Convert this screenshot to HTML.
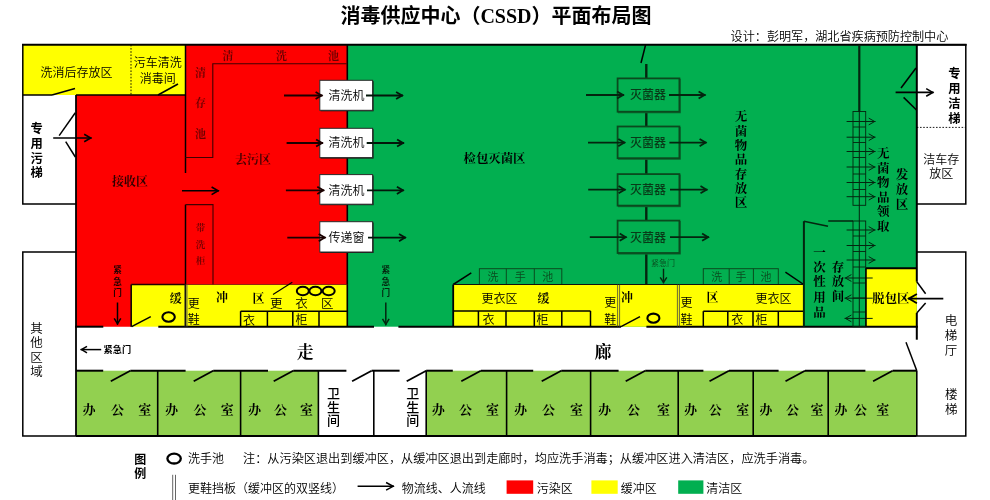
<!DOCTYPE html>
<html lang="zh-CN">
<head>
<meta charset="utf-8">
<title>消毒供应中心（CSSD）平面布局图</title>
<style>
html,body{margin:0;padding:0;background:#fff;}
body{width:990px;height:500px;overflow:hidden;}
svg{display:block;will-change:transform;}
</style>
</head>
<body>
<svg width="990" height="500" viewBox="0 0 990 500">
<rect x="0" y="0" width="990" height="500" fill="#ffffff"/>
<!-- zone fills -->
<rect x="22.8" y="44.8" width="162.7" height="50.2" fill="#ffff00"/>
<polygon points="185.5,44.8 347.3,44.8 347.3,284.5 131.2,284.5 131.2,326.7 76,326.7 76,95 185.5,95" fill="#fe0000"/>
<rect x="347.3" y="44.8" width="569.5" height="281.9" fill="#02af50"/>
<rect x="131.2" y="284.5" width="216.1" height="42.2" fill="#ffff00"/>
<rect x="453.2" y="284.5" width="350.3" height="42.2" fill="#ffff00"/>
<rect x="866" y="268.3" width="50.8" height="58.4" fill="#ffff00"/>
<rect x="76" y="370.7" width="242.4" height="65.3" fill="#92d050"/>
<rect x="426.2" y="370.7" width="490.6" height="65.3" fill="#92d050"/>
<!-- outer walls -->
<line x1="22" y1="44.8" x2="966.6" y2="44.8" stroke="#000" stroke-width="2"/>
<polyline points="22.8,44.8 22.8,204 76,204" fill="none" stroke="#000" stroke-width="1.5"/>
<line x1="22.8" y1="95" x2="52" y2="95" stroke="#000" stroke-width="1.5"/>
<line x1="52" y1="95" x2="75" y2="88.5" stroke="#000" stroke-width="1.5"/>
<line x1="76" y1="95" x2="185.5" y2="95" stroke="#000" stroke-width="1.5"/>
<line x1="76" y1="95" x2="76" y2="436" stroke="#000" stroke-width="1.8"/>
<line x1="158" y1="95" x2="178" y2="84" stroke="#000" stroke-width="1.5"/>
<line x1="131" y1="44.8" x2="131" y2="95" stroke="#000" stroke-width="0.9" stroke-dasharray="1.6,1.6"/>
<polyline points="76,252 22.8,252 22.8,436 76,436" fill="none" stroke="#000" stroke-width="1.5"/>
<polyline points="916.8,44.8 965.8,44.8 965.8,204 916.8,204" fill="none" stroke="#000" stroke-width="1.5"/>
<line x1="916.8" y1="127.4" x2="965.8" y2="127.4" stroke="#000" stroke-width="0.9" stroke-dasharray="1.6,1.6"/>
<line x1="916.8" y1="44.8" x2="916.8" y2="281.7" stroke="#000" stroke-width="2"/>
<line x1="916.8" y1="313" x2="916.8" y2="339.7" stroke="#000" stroke-width="2"/>
<polyline points="916.8,281.7 925.6,293.8" fill="none" stroke="#000" stroke-width="1.5"/>
<polyline points="925.6,303 916.8,313" fill="none" stroke="#000" stroke-width="1.5"/>
<line x1="906" y1="342.3" x2="916.8" y2="370.7" stroke="#000" stroke-width="1.5"/>
<polyline points="916.8,252 965.8,252 965.8,436 916.8,436" fill="none" stroke="#000" stroke-width="1.5"/>
<!-- red zone inner lines -->
<line x1="185.5" y1="44.8" x2="185.5" y2="173" stroke="#000" stroke-width="1.5"/>
<line x1="185.5" y1="204.6" x2="185.5" y2="326.7" stroke="#000" stroke-width="1.5"/>
<polyline points="185.5,157.5 212.8,157.5 212.8,63.8 346.5,63.8" fill="none" stroke="#400000" stroke-width="1.1"/>
<polyline points="185.5,204.6 213,204.6 213,284.5" fill="none" stroke="#400000" stroke-width="1.1"/>
<line x1="347.3" y1="44.8" x2="347.3" y2="326.7" stroke="#000" stroke-width="1.6"/>
<!-- corridor lines -->
<line x1="75.2" y1="326.7" x2="103.3" y2="326.7" stroke="#000" stroke-width="2"/>
<line x1="131.2" y1="326.7" x2="131.2" y2="284.5" stroke="#000" stroke-width="1.5"/>
<line x1="131.2" y1="284.5" x2="186" y2="284.5" stroke="#200" stroke-width="1.3"/>
<line x1="186" y1="284.5" x2="347.3" y2="284.5" stroke="#700" stroke-width="0.8"/>
<line x1="158.3" y1="326.7" x2="374" y2="326.7" stroke="#000" stroke-width="2"/>
<line x1="398.4" y1="326.7" x2="621" y2="326.7" stroke="#000" stroke-width="2"/>
<line x1="646.4" y1="326.7" x2="917.8" y2="326.7" stroke="#000" stroke-width="2"/>
<line x1="76" y1="436" x2="916.8" y2="436" stroke="#000" stroke-width="2"/>
<line x1="76" y1="370.7" x2="103.2" y2="370.7" stroke="#000" stroke-width="2"/>
<line x1="130.3" y1="370.7" x2="185.6" y2="370.7" stroke="#000" stroke-width="2"/>
<line x1="213.2" y1="370.7" x2="268" y2="370.7" stroke="#000" stroke-width="2"/>
<line x1="293.2" y1="370.7" x2="346.4" y2="370.7" stroke="#000" stroke-width="2"/>
<line x1="371.6" y1="370.7" x2="399.6" y2="370.7" stroke="#000" stroke-width="2"/>
<line x1="426.2" y1="370.7" x2="452.8" y2="370.7" stroke="#000" stroke-width="2"/>
<line x1="480.8" y1="370.7" x2="533.2" y2="370.7" stroke="#000" stroke-width="2"/>
<line x1="561.2" y1="370.7" x2="618.6" y2="370.7" stroke="#000" stroke-width="2"/>
<line x1="645.2" y1="370.7" x2="703.4" y2="370.7" stroke="#000" stroke-width="2"/>
<line x1="729" y1="370.7" x2="778.6" y2="370.7" stroke="#000" stroke-width="2"/>
<line x1="805" y1="370.7" x2="865.4" y2="370.7" stroke="#000" stroke-width="2"/>
<line x1="892.6" y1="370.7" x2="916.8" y2="370.7" stroke="#000" stroke-width="2"/>
<line x1="130.3" y1="370.7" x2="110.8" y2="381.3" stroke="#000" stroke-width="1.8"/>
<line x1="213.2" y1="370.7" x2="193.7" y2="381.3" stroke="#000" stroke-width="1.8"/>
<line x1="293.2" y1="370.7" x2="273.7" y2="381.3" stroke="#000" stroke-width="1.8"/>
<line x1="371.6" y1="370.7" x2="352.1" y2="381.3" stroke="#000" stroke-width="1.8"/>
<line x1="426.2" y1="370.7" x2="406.7" y2="381.3" stroke="#000" stroke-width="1.8"/>
<line x1="480.8" y1="370.7" x2="461.3" y2="381.3" stroke="#000" stroke-width="1.8"/>
<line x1="561.2" y1="370.7" x2="541.7" y2="381.3" stroke="#000" stroke-width="1.8"/>
<line x1="645.2" y1="370.7" x2="625.7" y2="381.3" stroke="#000" stroke-width="1.8"/>
<line x1="729" y1="370.7" x2="709.5" y2="381.3" stroke="#000" stroke-width="1.8"/>
<line x1="805" y1="370.7" x2="785.5" y2="381.3" stroke="#000" stroke-width="1.8"/>
<line x1="892.6" y1="370.7" x2="873.1" y2="381.3" stroke="#000" stroke-width="1.8"/>
<line x1="157.7" y1="370.7" x2="157.7" y2="436" stroke="#000" stroke-width="1.6"/>
<line x1="240.6" y1="370.7" x2="240.6" y2="436" stroke="#000" stroke-width="1.6"/>
<line x1="318.4" y1="370.7" x2="318.4" y2="436" stroke="#000" stroke-width="1.6"/>
<line x1="373.8" y1="370.7" x2="373.8" y2="436" stroke="#000" stroke-width="1.6"/>
<line x1="426.2" y1="370.7" x2="426.2" y2="436" stroke="#000" stroke-width="1.6"/>
<line x1="506.6" y1="370.7" x2="506.6" y2="436" stroke="#000" stroke-width="1.6"/>
<line x1="590.6" y1="370.7" x2="590.6" y2="436" stroke="#000" stroke-width="1.6"/>
<line x1="678.2" y1="370.7" x2="678.2" y2="436" stroke="#000" stroke-width="1.6"/>
<line x1="753.2" y1="370.7" x2="753.2" y2="436" stroke="#000" stroke-width="1.6"/>
<line x1="828.2" y1="370.7" x2="828.2" y2="436" stroke="#000" stroke-width="1.6"/>
<line x1="916.8" y1="370.7" x2="916.8" y2="436" stroke="#000" stroke-width="1.6"/>
<!-- title -->
<text x="496" y="23.2" font-size="20" font-weight="bold" font-family='"Liberation Serif","Noto Sans CJK SC",serif' fill="#000" text-anchor="middle">消毒供应中心（CSSD）平面布局图</text>
<text x="948.3" y="41.36" font-size="12.1" font-weight="350" font-family='"Liberation Sans","Noto Sans CJK SC",sans-serif' fill="#000" text-anchor="end">设计：彭明军，湖北省疾病预防控制中心</text>
<!-- washers -->
<rect x="320.6" y="81.1" width="53" height="30.2" fill="#1c1c1c"/>
<rect x="319.8" y="80.3" width="52.8" height="30" fill="#fff" stroke="#2a2a2a" stroke-width="1"/>
<line x1="284" y1="95.5" x2="322.5" y2="95.5" stroke="#1a0000" stroke-width="1.8"/>
<polyline points="315.6,99.1 321.6,95.5 315.6,91.9" fill="none" stroke="#1a0000" stroke-width="1.8"/>
<text x="346.5" y="99.82" font-size="12" font-weight="350" font-family='"Liberation Sans","Noto Sans CJK SC",sans-serif' fill="#000" text-anchor="middle">清洗机</text>
<line x1="366" y1="95.5" x2="403" y2="95.5" stroke="#03160a" stroke-width="1.8"/>
<polyline points="396.1,99.1 402.1,95.5 396.1,91.9" fill="none" stroke="#03160a" stroke-width="1.8"/>
<rect x="320.6" y="129.1" width="53" height="29.5" fill="#1c1c1c"/>
<rect x="319.8" y="128.3" width="52.8" height="29.3" fill="#fff" stroke="#2a2a2a" stroke-width="1"/>
<line x1="286.6" y1="143" x2="323" y2="143" stroke="#1a0000" stroke-width="1.8"/>
<polyline points="316.1,146.6 322.1,143 316.1,139.4" fill="none" stroke="#1a0000" stroke-width="1.8"/>
<text x="346.5" y="147.32" font-size="12" font-weight="350" font-family='"Liberation Sans","Noto Sans CJK SC",sans-serif' fill="#000" text-anchor="middle">清洗机</text>
<line x1="366.7" y1="143" x2="404" y2="143" stroke="#03160a" stroke-width="1.8"/>
<polyline points="397.1,146.6 403.1,143 397.1,139.4" fill="none" stroke="#03160a" stroke-width="1.8"/>
<rect x="320.6" y="175.4" width="53" height="29.8" fill="#1c1c1c"/>
<rect x="319.8" y="174.6" width="52.8" height="29.6" fill="#fff" stroke="#2a2a2a" stroke-width="1"/>
<line x1="285.9" y1="190.3" x2="324.2" y2="190.3" stroke="#1a0000" stroke-width="1.8"/>
<polyline points="317.3,193.9 323.3,190.3 317.3,186.7" fill="none" stroke="#1a0000" stroke-width="1.8"/>
<text x="346.5" y="194.62" font-size="12" font-weight="350" font-family='"Liberation Sans","Noto Sans CJK SC",sans-serif' fill="#000" text-anchor="middle">清洗机</text>
<line x1="367" y1="190.3" x2="403.8" y2="190.3" stroke="#03160a" stroke-width="1.8"/>
<polyline points="396.9,193.9 402.9,190.3 396.9,186.7" fill="none" stroke="#03160a" stroke-width="1.8"/>
<rect x="320.6" y="222.5" width="53" height="30.5" fill="#1c1c1c"/>
<rect x="319.8" y="221.7" width="52.8" height="30.3" fill="#fff" stroke="#2a2a2a" stroke-width="1"/>
<line x1="287.3" y1="237.6" x2="325.6" y2="237.6" stroke="#1a0000" stroke-width="1.8"/>
<polyline points="318.7,241.2 324.7,237.6 318.7,234" fill="none" stroke="#1a0000" stroke-width="1.8"/>
<text x="346.5" y="241.92" font-size="12" font-weight="350" font-family='"Liberation Sans","Noto Sans CJK SC",sans-serif' fill="#000" text-anchor="middle">传递窗</text>
<line x1="368" y1="237.6" x2="405.9" y2="237.6" stroke="#03160a" stroke-width="1.8"/>
<polyline points="399,241.2 405,237.6 399,234" fill="none" stroke="#03160a" stroke-width="1.8"/>
<!-- sterilizers -->
<line x1="646.3" y1="64" x2="646.3" y2="284.5" stroke="#04250f" stroke-width="2.4"/>
<rect x="618.6" y="79.4" width="61.6" height="33.3" fill="#02af50" stroke="#0b6a30" stroke-width="1.2"/>
<rect x="617.6" y="78.4" width="61.8" height="33.3" fill="#02af50" stroke="#0a4a1e" stroke-width="1.8"/>
<line x1="586" y1="95" x2="624" y2="95" stroke="#04250f" stroke-width="1.8"/>
<polyline points="617.1,98.6 623.1,95 617.1,91.4" fill="none" stroke="#04250f" stroke-width="1.8"/>
<text x="648" y="99.32" font-size="12" font-weight="500" font-family='"Liberation Sans","Noto Sans CJK SC",sans-serif' fill="#083a18" text-anchor="middle">灭菌器</text>
<line x1="669" y1="95" x2="705.5" y2="95" stroke="#04250f" stroke-width="1.8"/>
<polyline points="698.6,98.6 704.6,95 698.6,91.4" fill="none" stroke="#04250f" stroke-width="1.8"/>
<rect x="618.6" y="127.5" width="61.6" height="31.7" fill="#02af50" stroke="#0b6a30" stroke-width="1.2"/>
<rect x="617.6" y="126.5" width="61.8" height="31.7" fill="#02af50" stroke="#0a4a1e" stroke-width="1.8"/>
<line x1="588" y1="142.6" x2="625.2" y2="142.6" stroke="#04250f" stroke-width="1.8"/>
<polyline points="618.3,146.2 624.3,142.6 618.3,139" fill="none" stroke="#04250f" stroke-width="1.8"/>
<text x="648" y="146.92" font-size="12" font-weight="500" font-family='"Liberation Sans","Noto Sans CJK SC",sans-serif' fill="#083a18" text-anchor="middle">灭菌器</text>
<line x1="669.4" y1="142.6" x2="706.5" y2="142.6" stroke="#04250f" stroke-width="1.8"/>
<polyline points="699.6,146.2 705.6,142.6 699.6,139" fill="none" stroke="#04250f" stroke-width="1.8"/>
<rect x="618.6" y="175.1" width="61.6" height="31.5" fill="#02af50" stroke="#0b6a30" stroke-width="1.2"/>
<rect x="617.6" y="174.1" width="61.8" height="31.5" fill="#02af50" stroke="#0a4a1e" stroke-width="1.8"/>
<line x1="588.2" y1="189.7" x2="625.5" y2="189.7" stroke="#04250f" stroke-width="1.8"/>
<polyline points="618.6,193.3 624.6,189.7 618.6,186.1" fill="none" stroke="#04250f" stroke-width="1.8"/>
<text x="648" y="194.02" font-size="12" font-weight="500" font-family='"Liberation Sans","Noto Sans CJK SC",sans-serif' fill="#083a18" text-anchor="middle">灭菌器</text>
<line x1="670" y1="189.7" x2="707.4" y2="189.7" stroke="#04250f" stroke-width="1.8"/>
<polyline points="700.5,193.3 706.5,189.7 700.5,186.1" fill="none" stroke="#04250f" stroke-width="1.8"/>
<rect x="618.6" y="221.6" width="61.6" height="32.4" fill="#02af50" stroke="#0b6a30" stroke-width="1.2"/>
<rect x="617.6" y="220.6" width="61.8" height="32.4" fill="#02af50" stroke="#0a4a1e" stroke-width="1.8"/>
<line x1="589.8" y1="237.2" x2="626.6" y2="237.2" stroke="#04250f" stroke-width="1.8"/>
<polyline points="619.7,240.8 625.7,237.2 619.7,233.6" fill="none" stroke="#04250f" stroke-width="1.8"/>
<text x="648" y="241.52" font-size="12" font-weight="500" font-family='"Liberation Sans","Noto Sans CJK SC",sans-serif' fill="#083a18" text-anchor="middle">灭菌器</text>
<line x1="670" y1="237.2" x2="709" y2="237.2" stroke="#04250f" stroke-width="1.8"/>
<polyline points="702.1,240.8 708.1,237.2 702.1,233.6" fill="none" stroke="#04250f" stroke-width="1.8"/>
<line x1="645.6" y1="44.8" x2="641" y2="63" stroke="#000" stroke-width="1.5"/>
<!-- lift doors and flow arrows -->
<line x1="53.2" y1="138" x2="91.6" y2="138" stroke="#000" stroke-width="1.6"/>
<polyline points="84.2,141.8 90.7,138 84.2,134.2" fill="none" stroke="#000" stroke-width="1.6"/>
<line x1="59.2" y1="135.6" x2="75.3" y2="112.8" stroke="#000" stroke-width="1.5"/>
<line x1="65.7" y1="141.6" x2="75.3" y2="157" stroke="#000" stroke-width="1.5"/>
<line x1="182" y1="190.8" x2="219" y2="190.8" stroke="#000" stroke-width="1.6"/>
<polyline points="211.6,194.6 218.1,190.8 211.6,187" fill="none" stroke="#000" stroke-width="1.6"/>
<line x1="895.6" y1="92.4" x2="933.6" y2="92.4" stroke="#000" stroke-width="1.6"/>
<polyline points="926.2,96.2 932.7,92.4 926.2,88.6" fill="none" stroke="#000" stroke-width="1.6"/>
<line x1="901" y1="88" x2="916" y2="68" stroke="#000" stroke-width="1.5"/>
<line x1="903.6" y1="97.4" x2="916.5" y2="110" stroke="#000" stroke-width="1.5"/>
<!-- zone labels -->
<text x="76.4" y="77.02" font-size="12" font-weight="350" font-family='"Liberation Sans","Noto Sans CJK SC",sans-serif' fill="#000" text-anchor="middle">洗消后存放区</text>
<text x="157.8" y="67.32" font-size="12" font-weight="350" font-family='"Liberation Sans","Noto Sans CJK SC",sans-serif' fill="#000" text-anchor="middle">污车清洗</text>
<text x="157.8" y="82.62" font-size="12" font-weight="350" font-family='"Liberation Sans","Noto Sans CJK SC",sans-serif' fill="#000" text-anchor="middle">消毒间</text>
<text x="36.6" y="133.03" font-size="12.3" font-weight="bold" font-family='"Liberation Sans","Noto Sans CJK SC",sans-serif' fill="#000" text-anchor="middle">专</text>
<text x="36.6" y="147.73" font-size="12.3" font-weight="bold" font-family='"Liberation Sans","Noto Sans CJK SC",sans-serif' fill="#000" text-anchor="middle">用</text>
<text x="36.6" y="162.63" font-size="12.3" font-weight="bold" font-family='"Liberation Sans","Noto Sans CJK SC",sans-serif' fill="#000" text-anchor="middle">污</text>
<text x="36.6" y="177.23" font-size="12.3" font-weight="bold" font-family='"Liberation Sans","Noto Sans CJK SC",sans-serif' fill="#000" text-anchor="middle">梯</text>
<text x="130" y="186.32" font-size="12" font-weight="bold" font-family='"Liberation Serif","Noto Serif CJK SC",serif' fill="#300000" text-anchor="middle">接收区</text>
<text x="253" y="164.32" font-size="12" font-weight="bold" font-family='"Liberation Serif","Noto Serif CJK SC",serif' fill="#4a0000" text-anchor="middle">去污区</text>
<text x="494.5" y="163.46" font-size="12.4" font-weight="bold" font-family='"Liberation Serif","Noto Serif CJK SC",serif' fill="#000" text-anchor="middle">检包灭菌区</text>
<text x="741" y="121.1" font-size="12.5" font-weight="bold" font-family='"Liberation Serif","Noto Serif CJK SC",serif' fill="#000" text-anchor="middle">无</text>
<text x="741" y="135.5" font-size="12.5" font-weight="bold" font-family='"Liberation Serif","Noto Serif CJK SC",serif' fill="#000" text-anchor="middle">菌</text>
<text x="741" y="149.8" font-size="12.5" font-weight="bold" font-family='"Liberation Serif","Noto Serif CJK SC",serif' fill="#000" text-anchor="middle">物</text>
<text x="741" y="164.3" font-size="12.5" font-weight="bold" font-family='"Liberation Serif","Noto Serif CJK SC",serif' fill="#000" text-anchor="middle">品</text>
<text x="741" y="178.7" font-size="12.5" font-weight="bold" font-family='"Liberation Serif","Noto Serif CJK SC",serif' fill="#000" text-anchor="middle">存</text>
<text x="741" y="192.8" font-size="12.5" font-weight="bold" font-family='"Liberation Serif","Noto Serif CJK SC",serif' fill="#000" text-anchor="middle">放</text>
<text x="741" y="207.3" font-size="12.5" font-weight="bold" font-family='"Liberation Serif","Noto Serif CJK SC",serif' fill="#000" text-anchor="middle">区</text>
<text x="883.3" y="158.1" font-size="12.5" font-weight="bold" font-family='"Liberation Serif","Noto Serif CJK SC",serif' fill="#000" text-anchor="middle">无</text>
<text x="883.3" y="172.5" font-size="12.5" font-weight="bold" font-family='"Liberation Serif","Noto Serif CJK SC",serif' fill="#000" text-anchor="middle">菌</text>
<text x="883.3" y="186.9" font-size="12.5" font-weight="bold" font-family='"Liberation Serif","Noto Serif CJK SC",serif' fill="#000" text-anchor="middle">物</text>
<text x="883.3" y="201.5" font-size="12.5" font-weight="bold" font-family='"Liberation Serif","Noto Serif CJK SC",serif' fill="#000" text-anchor="middle">品</text>
<text x="883.3" y="215.8" font-size="12.5" font-weight="bold" font-family='"Liberation Serif","Noto Serif CJK SC",serif' fill="#000" text-anchor="middle">领</text>
<text x="883.3" y="230.5" font-size="12.5" font-weight="bold" font-family='"Liberation Serif","Noto Serif CJK SC",serif' fill="#000" text-anchor="middle">取</text>
<text x="902" y="179.1" font-size="12.5" font-weight="bold" font-family='"Liberation Serif","Noto Serif CJK SC",serif' fill="#000" text-anchor="middle">发</text>
<text x="902" y="193.5" font-size="12.5" font-weight="bold" font-family='"Liberation Serif","Noto Serif CJK SC",serif' fill="#000" text-anchor="middle">放</text>
<text x="902" y="209" font-size="12.5" font-weight="bold" font-family='"Liberation Serif","Noto Serif CJK SC",serif' fill="#000" text-anchor="middle">区</text>
<text x="954.3" y="77.93" font-size="12.3" font-weight="bold" font-family='"Liberation Sans","Noto Sans CJK SC",sans-serif' fill="#000" text-anchor="middle">专</text>
<text x="954.3" y="93.43" font-size="12.3" font-weight="bold" font-family='"Liberation Sans","Noto Sans CJK SC",sans-serif' fill="#000" text-anchor="middle">用</text>
<text x="954.3" y="107.73" font-size="12.3" font-weight="bold" font-family='"Liberation Sans","Noto Sans CJK SC",sans-serif' fill="#000" text-anchor="middle">洁</text>
<text x="954.3" y="122.63" font-size="12.3" font-weight="bold" font-family='"Liberation Sans","Noto Sans CJK SC",sans-serif' fill="#000" text-anchor="middle">梯</text>
<text x="941.2" y="163.62" font-size="12" font-weight="350" font-family='"Liberation Sans","Noto Sans CJK SC",sans-serif' fill="#000" text-anchor="middle">洁车存</text>
<text x="941.2" y="177.92" font-size="12" font-weight="350" font-family='"Liberation Sans","Noto Sans CJK SC",sans-serif' fill="#000" text-anchor="middle">放区</text>
<text x="200.4" y="76.56" font-size="11" font-weight="bold" font-family='"Liberation Serif","Noto Serif CJK SC",serif' fill="#6a0000" text-anchor="middle">清</text>
<text x="200.4" y="106.76" font-size="11" font-weight="bold" font-family='"Liberation Serif","Noto Serif CJK SC",serif' fill="#6a0000" text-anchor="middle">存</text>
<text x="200.4" y="138.46" font-size="11" font-weight="bold" font-family='"Liberation Serif","Noto Serif CJK SC",serif' fill="#6a0000" text-anchor="middle">池</text>
<text x="228" y="59.86" font-size="11" font-weight="bold" font-family='"Liberation Serif","Noto Serif CJK SC",serif' fill="#6a0000" text-anchor="middle">清</text>
<text x="281.4" y="59.86" font-size="11" font-weight="bold" font-family='"Liberation Serif","Noto Serif CJK SC",serif' fill="#6a0000" text-anchor="middle">洗</text>
<text x="333.6" y="59.86" font-size="11" font-weight="bold" font-family='"Liberation Serif","Noto Serif CJK SC",serif' fill="#6a0000" text-anchor="middle">池</text>
<text x="200.4" y="231.42" font-size="9.5" font-weight="bold" font-family='"Liberation Serif","Noto Serif CJK SC",serif' fill="#7a0000" text-anchor="middle">带</text>
<text x="200.4" y="247.62" font-size="9.5" font-weight="bold" font-family='"Liberation Serif","Noto Serif CJK SC",serif' fill="#7a0000" text-anchor="middle">洗</text>
<text x="200.4" y="263.62" font-size="9.5" font-weight="bold" font-family='"Liberation Serif","Noto Serif CJK SC",serif' fill="#7a0000" text-anchor="middle">柜</text>
<!-- emergency exits -->
<text x="117.5" y="273.1" font-size="8.6" font-weight="bold" font-family='"Liberation Sans","Noto Sans CJK SC",sans-serif' fill="#200" text-anchor="middle">紧</text>
<text x="117.5" y="284.6" font-size="8.6" font-weight="bold" font-family='"Liberation Sans","Noto Sans CJK SC",sans-serif' fill="#200" text-anchor="middle">急</text>
<text x="117.5" y="296.4" font-size="8.6" font-weight="bold" font-family='"Liberation Sans","Noto Sans CJK SC",sans-serif' fill="#200" text-anchor="middle">门</text>
<line x1="117.5" y1="302.5" x2="117.5" y2="324.7" stroke="#000" stroke-width="1.5"/>
<polyline points="114.2,318.3 117.5,323.8 120.8,318.3" fill="none" stroke="#000" stroke-width="1.5"/>
<text x="385.8" y="272.9" font-size="8.6" font-weight="bold" font-family='"Liberation Sans","Noto Sans CJK SC",sans-serif' fill="#04250f" text-anchor="middle">紧</text>
<text x="385.8" y="284.5" font-size="8.6" font-weight="bold" font-family='"Liberation Sans","Noto Sans CJK SC",sans-serif' fill="#04250f" text-anchor="middle">急</text>
<text x="385.8" y="296.4" font-size="8.6" font-weight="bold" font-family='"Liberation Sans","Noto Sans CJK SC",sans-serif' fill="#04250f" text-anchor="middle">门</text>
<line x1="385.8" y1="302.5" x2="385.8" y2="325.2" stroke="#04250f" stroke-width="1.5"/>
<polyline points="382.5,318.8 385.8,324.3 389.1,318.8" fill="none" stroke="#04250f" stroke-width="1.5"/>
<line x1="101.2" y1="349.6" x2="80.6" y2="349.6" stroke="#000" stroke-width="1.5"/>
<polyline points="87,346.3 81.5,349.6 87,352.9" fill="none" stroke="#000" stroke-width="1.5"/>
<text x="117.3" y="353.11" font-size="9.2" font-weight="bold" font-family='"Liberation Sans","Noto Sans CJK SC",sans-serif' fill="#000" text-anchor="middle">紧急门</text>
<text x="663" y="265.58" font-size="8" font-weight="350" font-family='"Liberation Sans","Noto Sans CJK SC",sans-serif' fill="#0a4a1e" text-anchor="middle">紧急门</text>
<line x1="663.5" y1="268.7" x2="663.5" y2="283.3" stroke="#04250f" stroke-width="1.4"/>
<polyline points="660.2,277.4 663.5,282.4 666.8,277.4" fill="none" stroke="#04250f" stroke-width="1.4"/>
<!-- left buffer zone -->
<text x="175.7" y="302.92" font-size="12" font-weight="bold" font-family='"Liberation Serif","Noto Serif CJK SC",serif' fill="#000" text-anchor="middle">缓</text>
<text x="193.8" y="307.62" font-size="12" font-weight="350" font-family='"Liberation Sans","Noto Sans CJK SC",sans-serif' fill="#000" text-anchor="middle">更</text>
<text x="193.8" y="323.92" font-size="12" font-weight="350" font-family='"Liberation Sans","Noto Sans CJK SC",sans-serif' fill="#000" text-anchor="middle">鞋</text>
<text x="222" y="302.32" font-size="12" font-weight="bold" font-family='"Liberation Serif","Noto Serif CJK SC",serif' fill="#000" text-anchor="middle">冲</text>
<text x="258.5" y="302.62" font-size="12" font-weight="bold" font-family='"Liberation Serif","Noto Serif CJK SC",serif' fill="#000" text-anchor="middle">区</text>
<text x="276.2" y="308.1" font-size="12.5" font-weight="350" font-family='"Liberation Sans","Noto Sans CJK SC",sans-serif' fill="#000" text-anchor="middle">更</text>
<text x="301.4" y="308.1" font-size="12.5" font-weight="350" font-family='"Liberation Sans","Noto Sans CJK SC",sans-serif' fill="#000" text-anchor="middle">衣</text>
<text x="327.3" y="308.1" font-size="12.5" font-weight="350" font-family='"Liberation Sans","Noto Sans CJK SC",sans-serif' fill="#000" text-anchor="middle">区</text>
<ellipse cx="302.8" cy="291" rx="6" ry="4.3" fill="none" stroke="#000" stroke-width="2"/>
<ellipse cx="315.4" cy="291" rx="6" ry="4.3" fill="none" stroke="#000" stroke-width="2"/>
<ellipse cx="328.7" cy="291" rx="6" ry="4.3" fill="none" stroke="#000" stroke-width="2"/>
<ellipse cx="168.6" cy="317" rx="6.2" ry="4.7" fill="none" stroke="#000" stroke-width="2.1"/>
<line x1="185" y1="284.5" x2="185" y2="326.7" stroke="#333" stroke-width="0.8"/>
<line x1="187" y1="284.5" x2="187" y2="326.7" stroke="#555" stroke-width="0.8"/>
<line x1="240.6" y1="311.2" x2="347" y2="311.2" stroke="#000" stroke-width="1.5"/>
<line x1="240.6" y1="311.2" x2="240.6" y2="326.7" stroke="#000" stroke-width="1.5"/>
<line x1="267.4" y1="311.2" x2="267.4" y2="326.7" stroke="#000" stroke-width="1.5"/>
<line x1="292.8" y1="311.2" x2="292.8" y2="326.7" stroke="#000" stroke-width="1.5"/>
<line x1="319" y1="311.2" x2="319" y2="326.7" stroke="#000" stroke-width="1.5"/>
<text x="249" y="324.62" font-size="12" font-weight="350" font-family='"Liberation Sans","Noto Sans CJK SC",sans-serif' fill="#000" text-anchor="middle">衣</text>
<text x="301.4" y="324.32" font-size="12" font-weight="350" font-family='"Liberation Sans","Noto Sans CJK SC",sans-serif' fill="#000" text-anchor="middle">柜</text>
<line x1="131.6" y1="326.7" x2="150.8" y2="316.6" stroke="#000" stroke-width="1.5"/>
<line x1="273" y1="294.4" x2="292.3" y2="282.3" stroke="#000" stroke-width="1.2"/>
<!-- right buffer zone -->
<rect x="479.4" y="268.7" width="82.4" height="15.8" fill="none" stroke="#0a4a1e" stroke-width="1"/>
<line x1="506.3" y1="268.7" x2="506.3" y2="284.5" stroke="#0a4a1e" stroke-width="1"/>
<line x1="534.3" y1="268.7" x2="534.3" y2="284.5" stroke="#0a4a1e" stroke-width="1"/>
<text x="493.1" y="280.76" font-size="11" font-weight="350" font-family='"Liberation Sans","Noto Sans CJK SC",sans-serif' fill="#0a4a1e" text-anchor="middle">洗</text>
<text x="520.2" y="280.76" font-size="11" font-weight="350" font-family='"Liberation Sans","Noto Sans CJK SC",sans-serif' fill="#0a4a1e" text-anchor="middle">手</text>
<text x="547.7" y="280.76" font-size="11" font-weight="350" font-family='"Liberation Sans","Noto Sans CJK SC",sans-serif' fill="#0a4a1e" text-anchor="middle">池</text>
<rect x="703.3" y="268.7" width="75" height="15.8" fill="none" stroke="#0a4a1e" stroke-width="1"/>
<line x1="729.2" y1="268.7" x2="729.2" y2="284.5" stroke="#0a4a1e" stroke-width="1"/>
<line x1="753.4" y1="268.7" x2="753.4" y2="284.5" stroke="#0a4a1e" stroke-width="1"/>
<text x="716.7" y="280.76" font-size="11" font-weight="350" font-family='"Liberation Sans","Noto Sans CJK SC",sans-serif' fill="#0a4a1e" text-anchor="middle">洗</text>
<text x="741" y="280.76" font-size="11" font-weight="350" font-family='"Liberation Sans","Noto Sans CJK SC",sans-serif' fill="#0a4a1e" text-anchor="middle">手</text>
<text x="766" y="280.76" font-size="11" font-weight="350" font-family='"Liberation Sans","Noto Sans CJK SC",sans-serif' fill="#0a4a1e" text-anchor="middle">池</text>
<line x1="453.2" y1="284.5" x2="471.3" y2="272.8" stroke="#000" stroke-width="1.5"/>
<line x1="785.4" y1="272.2" x2="803" y2="284" stroke="#000" stroke-width="1.5"/>
<line x1="453.2" y1="284.5" x2="453.2" y2="326.7" stroke="#000" stroke-width="1.8"/>
<line x1="453.2" y1="284.5" x2="803.5" y2="284.5" stroke="#111" stroke-width="1.2"/>
<text x="499.5" y="302.72" font-size="12" font-weight="350" font-family='"Liberation Sans","Noto Sans CJK SC",sans-serif' fill="#000" text-anchor="middle">更衣区</text>
<text x="543.6" y="302.72" font-size="12" font-weight="bold" font-family='"Liberation Serif","Noto Serif CJK SC",serif' fill="#000" text-anchor="middle">缓</text>
<text x="610.3" y="307.32" font-size="12" font-weight="350" font-family='"Liberation Sans","Noto Sans CJK SC",sans-serif' fill="#000" text-anchor="middle">更</text>
<text x="610.3" y="323.62" font-size="12" font-weight="350" font-family='"Liberation Sans","Noto Sans CJK SC",sans-serif' fill="#000" text-anchor="middle">鞋</text>
<text x="627" y="302.32" font-size="12" font-weight="bold" font-family='"Liberation Serif","Noto Serif CJK SC",serif' fill="#000" text-anchor="middle">冲</text>
<text x="686.4" y="307.32" font-size="12" font-weight="350" font-family='"Liberation Sans","Noto Sans CJK SC",sans-serif' fill="#000" text-anchor="middle">更</text>
<text x="686.4" y="323.62" font-size="12" font-weight="350" font-family='"Liberation Sans","Noto Sans CJK SC",sans-serif' fill="#000" text-anchor="middle">鞋</text>
<text x="712.6" y="302.32" font-size="12" font-weight="bold" font-family='"Liberation Serif","Noto Serif CJK SC",serif' fill="#000" text-anchor="middle">区</text>
<text x="773.4" y="302.52" font-size="12" font-weight="350" font-family='"Liberation Sans","Noto Sans CJK SC",sans-serif' fill="#000" text-anchor="middle">更衣区</text>
<line x1="617.6" y1="284.5" x2="617.6" y2="326.7" stroke="#444" stroke-width="0.8"/>
<line x1="619.6" y1="284.5" x2="619.6" y2="326.7" stroke="#444" stroke-width="0.8"/>
<line x1="677.4" y1="284.5" x2="677.4" y2="326.7" stroke="#444" stroke-width="0.8"/>
<line x1="679.4" y1="284.5" x2="679.4" y2="326.7" stroke="#444" stroke-width="0.8"/>
<line x1="453.2" y1="311" x2="590.5" y2="311" stroke="#000" stroke-width="1.5"/>
<line x1="478.4" y1="311" x2="478.4" y2="326.7" stroke="#000" stroke-width="1.5"/>
<line x1="506" y1="311" x2="506" y2="326.7" stroke="#000" stroke-width="1.5"/>
<line x1="534.3" y1="311" x2="534.3" y2="326.7" stroke="#000" stroke-width="1.5"/>
<line x1="561.8" y1="311" x2="561.8" y2="326.7" stroke="#000" stroke-width="1.5"/>
<line x1="590.5" y1="311" x2="590.5" y2="326.7" stroke="#000" stroke-width="1.5"/>
<text x="488.5" y="324.32" font-size="12" font-weight="350" font-family='"Liberation Sans","Noto Sans CJK SC",sans-serif' fill="#000" text-anchor="middle">衣</text>
<text x="542.6" y="324.32" font-size="12" font-weight="350" font-family='"Liberation Sans","Noto Sans CJK SC",sans-serif' fill="#000" text-anchor="middle">柜</text>
<line x1="703.3" y1="311.2" x2="803.5" y2="311.2" stroke="#000" stroke-width="1.5"/>
<line x1="703.3" y1="311.2" x2="703.3" y2="326.7" stroke="#000" stroke-width="1.5"/>
<line x1="727.8" y1="311.2" x2="727.8" y2="326.7" stroke="#000" stroke-width="1.5"/>
<line x1="753" y1="311.2" x2="753" y2="326.7" stroke="#000" stroke-width="1.5"/>
<line x1="778.3" y1="311.2" x2="778.3" y2="326.7" stroke="#000" stroke-width="1.5"/>
<text x="737.3" y="324.32" font-size="12" font-weight="350" font-family='"Liberation Sans","Noto Sans CJK SC",sans-serif' fill="#000" text-anchor="middle">衣</text>
<text x="761.5" y="324.32" font-size="12" font-weight="350" font-family='"Liberation Sans","Noto Sans CJK SC",sans-serif' fill="#000" text-anchor="middle">柜</text>
<ellipse cx="653.4" cy="318.2" rx="6" ry="4.6" fill="none" stroke="#000" stroke-width="2.1"/>
<line x1="621" y1="326.7" x2="640" y2="316.6" stroke="#000" stroke-width="1.5"/>
<!-- issue counter, store room, unpacking -->
<line x1="803.9" y1="221.2" x2="803.9" y2="326.7" stroke="#04250f" stroke-width="2"/>
<line x1="803.9" y1="221.2" x2="828" y2="226.2" stroke="#04250f" stroke-width="1.5"/>
<line x1="828.2" y1="221" x2="853" y2="221" stroke="#04250f" stroke-width="1.5"/>
<line x1="859.3" y1="44.8" x2="859.3" y2="112" stroke="#04250f" stroke-width="2.2"/>
<line x1="859.3" y1="112" x2="859.3" y2="326.7" stroke="#04250f" stroke-width="1"/>
<rect x="853" y="111.5" width="12.7" height="93.8" fill="none" stroke="#04250f" stroke-width="0.9"/>
<line x1="853" y1="127" x2="865.7" y2="127" stroke="#04250f" stroke-width="0.9"/>
<line x1="853" y1="142.5" x2="865.7" y2="142.5" stroke="#04250f" stroke-width="0.9"/>
<line x1="853" y1="157.5" x2="865.7" y2="157.5" stroke="#04250f" stroke-width="0.9"/>
<line x1="853" y1="174" x2="865.7" y2="174" stroke="#04250f" stroke-width="0.9"/>
<line x1="853" y1="189.5" x2="865.7" y2="189.5" stroke="#04250f" stroke-width="0.9"/>
<rect x="853" y="221" width="12.7" height="105.7" fill="none" stroke="#04250f" stroke-width="0.9"/>
<line x1="853" y1="236" x2="865.7" y2="236" stroke="#04250f" stroke-width="0.9"/>
<line x1="853" y1="251.5" x2="865.7" y2="251.5" stroke="#04250f" stroke-width="0.9"/>
<line x1="853" y1="267" x2="865.7" y2="267" stroke="#04250f" stroke-width="0.9"/>
<line x1="853" y1="283" x2="865.7" y2="283" stroke="#04250f" stroke-width="0.9"/>
<line x1="853" y1="298" x2="865.7" y2="298" stroke="#04250f" stroke-width="0.9"/>
<line x1="853" y1="312" x2="865.7" y2="312" stroke="#04250f" stroke-width="0.9"/>
<line x1="846.6" y1="121.5" x2="875.6" y2="121.5" stroke="#04250f" stroke-width="1"/>
<polyline points="868.7,124.9 874.7,121.5 868.7,118.1" fill="none" stroke="#04250f" stroke-width="1"/>
<line x1="846.6" y1="137.2" x2="875.6" y2="137.2" stroke="#04250f" stroke-width="1"/>
<polyline points="868.7,140.6 874.7,137.2 868.7,133.8" fill="none" stroke="#04250f" stroke-width="1"/>
<line x1="846.6" y1="151.5" x2="875.6" y2="151.5" stroke="#04250f" stroke-width="1"/>
<polyline points="868.7,154.9 874.7,151.5 868.7,148.1" fill="none" stroke="#04250f" stroke-width="1"/>
<line x1="846.6" y1="167" x2="875.6" y2="167" stroke="#04250f" stroke-width="1"/>
<polyline points="868.7,170.4 874.7,167 868.7,163.6" fill="none" stroke="#04250f" stroke-width="1"/>
<line x1="846.6" y1="182.5" x2="875.6" y2="182.5" stroke="#04250f" stroke-width="1"/>
<polyline points="868.7,185.9 874.7,182.5 868.7,179.1" fill="none" stroke="#04250f" stroke-width="1"/>
<line x1="846.6" y1="196.7" x2="875.6" y2="196.7" stroke="#04250f" stroke-width="1"/>
<polyline points="868.7,200.1 874.7,196.7 868.7,193.3" fill="none" stroke="#04250f" stroke-width="1"/>
<line x1="846.6" y1="230" x2="875.6" y2="230" stroke="#04250f" stroke-width="1"/>
<polyline points="868.7,233.4 874.7,230 868.7,226.6" fill="none" stroke="#04250f" stroke-width="1"/>
<line x1="846.6" y1="245.5" x2="875.6" y2="245.5" stroke="#04250f" stroke-width="1"/>
<polyline points="868.7,248.9 874.7,245.5 868.7,242.1" fill="none" stroke="#04250f" stroke-width="1"/>
<line x1="846.6" y1="260" x2="875.6" y2="260" stroke="#04250f" stroke-width="1"/>
<polyline points="868.7,263.4 874.7,260 868.7,256.6" fill="none" stroke="#04250f" stroke-width="1"/>
<line x1="872.7" y1="278" x2="844.5" y2="278" stroke="#04250f" stroke-width="1"/>
<polyline points="851.4,274.6 845.4,278 851.4,281.4" fill="none" stroke="#04250f" stroke-width="1"/>
<line x1="872.7" y1="298.2" x2="844.5" y2="298.2" stroke="#04250f" stroke-width="1"/>
<polyline points="851.4,294.8 845.4,298.2 851.4,301.6" fill="none" stroke="#04250f" stroke-width="1"/>
<line x1="872.7" y1="318.4" x2="844.5" y2="318.4" stroke="#04250f" stroke-width="1"/>
<polyline points="851.4,315 845.4,318.4 851.4,321.8" fill="none" stroke="#04250f" stroke-width="1"/>
<text x="819.5" y="256.5" font-size="12.5" font-weight="bold" font-family='"Liberation Serif","Noto Serif CJK SC",serif' fill="#000" text-anchor="middle">一</text>
<text x="819.5" y="271.5" font-size="12.5" font-weight="bold" font-family='"Liberation Serif","Noto Serif CJK SC",serif' fill="#000" text-anchor="middle">次</text>
<text x="819.5" y="285.9" font-size="12.5" font-weight="bold" font-family='"Liberation Serif","Noto Serif CJK SC",serif' fill="#000" text-anchor="middle">性</text>
<text x="819.5" y="302" font-size="12.5" font-weight="bold" font-family='"Liberation Serif","Noto Serif CJK SC",serif' fill="#000" text-anchor="middle">用</text>
<text x="819.5" y="316.8" font-size="12.5" font-weight="bold" font-family='"Liberation Serif","Noto Serif CJK SC",serif' fill="#000" text-anchor="middle">品</text>
<text x="838" y="271.5" font-size="12.5" font-weight="bold" font-family='"Liberation Serif","Noto Serif CJK SC",serif' fill="#000" text-anchor="middle">存</text>
<text x="838" y="285.9" font-size="12.5" font-weight="bold" font-family='"Liberation Serif","Noto Serif CJK SC",serif' fill="#000" text-anchor="middle">放</text>
<text x="838" y="301.3" font-size="12.5" font-weight="bold" font-family='"Liberation Serif","Noto Serif CJK SC",serif' fill="#000" text-anchor="middle">间</text>
<line x1="866" y1="268.3" x2="916.8" y2="268.3" stroke="#000" stroke-width="2"/>
<line x1="866" y1="268.3" x2="866" y2="326.7" stroke="#000" stroke-width="1.5"/>
<text x="890.8" y="302.83" font-size="12.3" font-weight="bold" font-family='"Liberation Serif","Noto Serif CJK SC",serif' fill="#000" text-anchor="middle">脱包区</text>
<line x1="943.3" y1="298.6" x2="908" y2="298.6" stroke="#000" stroke-width="1.8"/>
<polyline points="916.9,294 908.9,298.6 916.9,303.2" fill="none" stroke="#000" stroke-width="1.8"/>
<text x="951" y="324.8" font-size="12.5" font-weight="350" font-family='"Liberation Sans","Noto Sans CJK SC",sans-serif' fill="#000" text-anchor="middle">电</text>
<text x="951" y="339.5" font-size="12.5" font-weight="350" font-family='"Liberation Sans","Noto Sans CJK SC",sans-serif' fill="#000" text-anchor="middle">梯</text>
<text x="951" y="354.9" font-size="12.5" font-weight="350" font-family='"Liberation Sans","Noto Sans CJK SC",sans-serif' fill="#000" text-anchor="middle">厅</text>
<text x="951.2" y="398.7" font-size="12.5" font-weight="350" font-family='"Liberation Sans","Noto Sans CJK SC",sans-serif' fill="#000" text-anchor="middle">楼</text>
<text x="951.2" y="413.5" font-size="12.5" font-weight="350" font-family='"Liberation Sans","Noto Sans CJK SC",sans-serif' fill="#000" text-anchor="middle">梯</text>
<text x="36.6" y="332.9" font-size="12.5" font-weight="350" font-family='"Liberation Sans","Noto Sans CJK SC",sans-serif' fill="#000" text-anchor="middle">其</text>
<text x="36.6" y="347.1" font-size="12.5" font-weight="350" font-family='"Liberation Sans","Noto Sans CJK SC",sans-serif' fill="#000" text-anchor="middle">他</text>
<text x="36.6" y="361.9" font-size="12.5" font-weight="350" font-family='"Liberation Sans","Noto Sans CJK SC",sans-serif' fill="#000" text-anchor="middle">区</text>
<text x="36.6" y="376.3" font-size="12.5" font-weight="350" font-family='"Liberation Sans","Noto Sans CJK SC",sans-serif' fill="#000" text-anchor="middle">域</text>
<!-- corridor -->
<text x="305.3" y="358.12" font-size="17" font-weight="bold" font-family='"Liberation Serif","Noto Serif CJK SC",serif' fill="#000" text-anchor="middle">走</text>
<text x="603" y="358.12" font-size="17" font-weight="bold" font-family='"Liberation Serif","Noto Serif CJK SC",serif' fill="#000" text-anchor="middle">廊</text>
<!-- offices -->
<text x="89" y="414.48" font-size="13" font-weight="bold" font-family='"Liberation Serif","Noto Serif CJK SC",serif' fill="#000" text-anchor="middle">办</text>
<text x="117.5" y="414.48" font-size="13" font-weight="bold" font-family='"Liberation Serif","Noto Serif CJK SC",serif' fill="#000" text-anchor="middle">公</text>
<text x="144.8" y="414.48" font-size="13" font-weight="bold" font-family='"Liberation Serif","Noto Serif CJK SC",serif' fill="#000" text-anchor="middle">室</text>
<text x="171.5" y="414.48" font-size="13" font-weight="bold" font-family='"Liberation Serif","Noto Serif CJK SC",serif' fill="#000" text-anchor="middle">办</text>
<text x="200" y="414.48" font-size="13" font-weight="bold" font-family='"Liberation Serif","Noto Serif CJK SC",serif' fill="#000" text-anchor="middle">公</text>
<text x="227.3" y="414.48" font-size="13" font-weight="bold" font-family='"Liberation Serif","Noto Serif CJK SC",serif' fill="#000" text-anchor="middle">室</text>
<text x="254.6" y="414.48" font-size="13" font-weight="bold" font-family='"Liberation Serif","Noto Serif CJK SC",serif' fill="#000" text-anchor="middle">办</text>
<text x="280.5" y="414.48" font-size="13" font-weight="bold" font-family='"Liberation Serif","Noto Serif CJK SC",serif' fill="#000" text-anchor="middle">公</text>
<text x="306.4" y="414.48" font-size="13" font-weight="bold" font-family='"Liberation Serif","Noto Serif CJK SC",serif' fill="#000" text-anchor="middle">室</text>
<text x="438.2" y="414.48" font-size="13" font-weight="bold" font-family='"Liberation Serif","Noto Serif CJK SC",serif' fill="#000" text-anchor="middle">办</text>
<text x="465.4" y="414.48" font-size="13" font-weight="bold" font-family='"Liberation Serif","Noto Serif CJK SC",serif' fill="#000" text-anchor="middle">公</text>
<text x="492.6" y="414.48" font-size="13" font-weight="bold" font-family='"Liberation Serif","Noto Serif CJK SC",serif' fill="#000" text-anchor="middle">室</text>
<text x="520.6" y="414.48" font-size="13" font-weight="bold" font-family='"Liberation Serif","Noto Serif CJK SC",serif' fill="#000" text-anchor="middle">办</text>
<text x="548.6" y="414.48" font-size="13" font-weight="bold" font-family='"Liberation Serif","Noto Serif CJK SC",serif' fill="#000" text-anchor="middle">公</text>
<text x="576.6" y="414.48" font-size="13" font-weight="bold" font-family='"Liberation Serif","Noto Serif CJK SC",serif' fill="#000" text-anchor="middle">室</text>
<text x="604.6" y="414.48" font-size="13" font-weight="bold" font-family='"Liberation Serif","Noto Serif CJK SC",serif' fill="#000" text-anchor="middle">办</text>
<text x="633.4" y="414.48" font-size="13" font-weight="bold" font-family='"Liberation Serif","Noto Serif CJK SC",serif' fill="#000" text-anchor="middle">公</text>
<text x="663.4" y="414.48" font-size="13" font-weight="bold" font-family='"Liberation Serif","Noto Serif CJK SC",serif' fill="#000" text-anchor="middle">室</text>
<text x="690.5" y="414.48" font-size="13" font-weight="bold" font-family='"Liberation Serif","Noto Serif CJK SC",serif' fill="#000" text-anchor="middle">办</text>
<text x="715.2" y="414.48" font-size="13" font-weight="bold" font-family='"Liberation Serif","Noto Serif CJK SC",serif' fill="#000" text-anchor="middle">公</text>
<text x="742.8" y="414.48" font-size="13" font-weight="bold" font-family='"Liberation Serif","Noto Serif CJK SC",serif' fill="#000" text-anchor="middle">室</text>
<text x="765.8" y="414.48" font-size="13" font-weight="bold" font-family='"Liberation Serif","Noto Serif CJK SC",serif' fill="#000" text-anchor="middle">办</text>
<text x="792.4" y="414.48" font-size="13" font-weight="bold" font-family='"Liberation Serif","Noto Serif CJK SC",serif' fill="#000" text-anchor="middle">公</text>
<text x="817" y="414.48" font-size="13" font-weight="bold" font-family='"Liberation Serif","Noto Serif CJK SC",serif' fill="#000" text-anchor="middle">室</text>
<text x="840.8" y="414.48" font-size="13" font-weight="bold" font-family='"Liberation Serif","Noto Serif CJK SC",serif' fill="#000" text-anchor="middle">办</text>
<text x="860.4" y="414.48" font-size="13" font-weight="bold" font-family='"Liberation Serif","Noto Serif CJK SC",serif' fill="#000" text-anchor="middle">公</text>
<text x="882.8" y="414.48" font-size="13" font-weight="bold" font-family='"Liberation Serif","Noto Serif CJK SC",serif' fill="#000" text-anchor="middle">室</text>
<text x="333.4" y="398.28" font-size="13" font-weight="500" font-family='"Liberation Sans","Noto Sans CJK SC",sans-serif' fill="#000" text-anchor="middle">卫</text>
<text x="333.4" y="411.78" font-size="13" font-weight="500" font-family='"Liberation Sans","Noto Sans CJK SC",sans-serif' fill="#000" text-anchor="middle">生</text>
<text x="333.4" y="425.08" font-size="13" font-weight="500" font-family='"Liberation Sans","Noto Sans CJK SC",sans-serif' fill="#000" text-anchor="middle">间</text>
<text x="412.8" y="398.28" font-size="13" font-weight="500" font-family='"Liberation Sans","Noto Sans CJK SC",sans-serif' fill="#000" text-anchor="middle">卫</text>
<text x="412.8" y="411.78" font-size="13" font-weight="500" font-family='"Liberation Sans","Noto Sans CJK SC",sans-serif' fill="#000" text-anchor="middle">生</text>
<text x="412.8" y="425.08" font-size="13" font-weight="500" font-family='"Liberation Sans","Noto Sans CJK SC",sans-serif' fill="#000" text-anchor="middle">间</text>
<!-- legend -->
<text x="140.3" y="463.52" font-size="12" font-weight="bold" font-family='"Liberation Sans","Noto Sans CJK SC",sans-serif' fill="#000" text-anchor="middle">图</text>
<text x="140.3" y="477.72" font-size="12" font-weight="bold" font-family='"Liberation Sans","Noto Sans CJK SC",sans-serif' fill="#000" text-anchor="middle">例</text>
<ellipse cx="174.1" cy="458.6" rx="6.7" ry="4.9" fill="none" stroke="#000" stroke-width="2.3"/>
<text x="188" y="463.32" font-size="12" font-weight="350" font-family='"Liberation Sans","Noto Sans CJK SC",sans-serif' fill="#000">洗手池</text>
<text x="243" y="463.38" font-size="12.16" font-weight="350" font-family='"Liberation Sans","Noto Sans CJK SC",sans-serif' fill="#000">注：从污染区退出到缓冲区，从缓冲区退出到走廊时，均应洗手消毒；从缓冲区进入清洁区，应洗手消毒。</text>
<line x1="172.7" y1="474.8" x2="172.7" y2="500" stroke="#555" stroke-width="0.9"/>
<line x1="175.5" y1="474.8" x2="175.5" y2="500" stroke="#555" stroke-width="0.9"/>
<text x="188" y="493.02" font-size="12" font-weight="350" font-family='"Liberation Sans","Noto Sans CJK SC",sans-serif' fill="#000">更鞋挡板（缓冲区的双竖线）</text>
<line x1="357.6" y1="486.3" x2="394" y2="486.3" stroke="#000" stroke-width="1.5"/>
<polyline points="386.1,490.1 393.1,486.3 386.1,482.5" fill="none" stroke="#000" stroke-width="1.5"/>
<text x="401.8" y="493.02" font-size="12" font-weight="350" font-family='"Liberation Sans","Noto Sans CJK SC",sans-serif' fill="#000">物流线、人流线</text>
<rect x="506.6" y="480.4" width="26.6" height="13.4" fill="#fe0000"/>
<text x="536.8" y="493.02" font-size="12" font-weight="350" font-family='"Liberation Sans","Noto Sans CJK SC",sans-serif' fill="#000">污染区</text>
<rect x="591.4" y="480.4" width="26.3" height="13.4" fill="#ffff00"/>
<text x="620.8" y="493.02" font-size="12" font-weight="350" font-family='"Liberation Sans","Noto Sans CJK SC",sans-serif' fill="#000">缓冲区</text>
<rect x="678.2" y="480.4" width="25.2" height="13.4" fill="#02af50"/>
<text x="706.2" y="493.02" font-size="12" font-weight="350" font-family='"Liberation Sans","Noto Sans CJK SC",sans-serif' fill="#000">清洁区</text>
</svg>
</body>
</html>
